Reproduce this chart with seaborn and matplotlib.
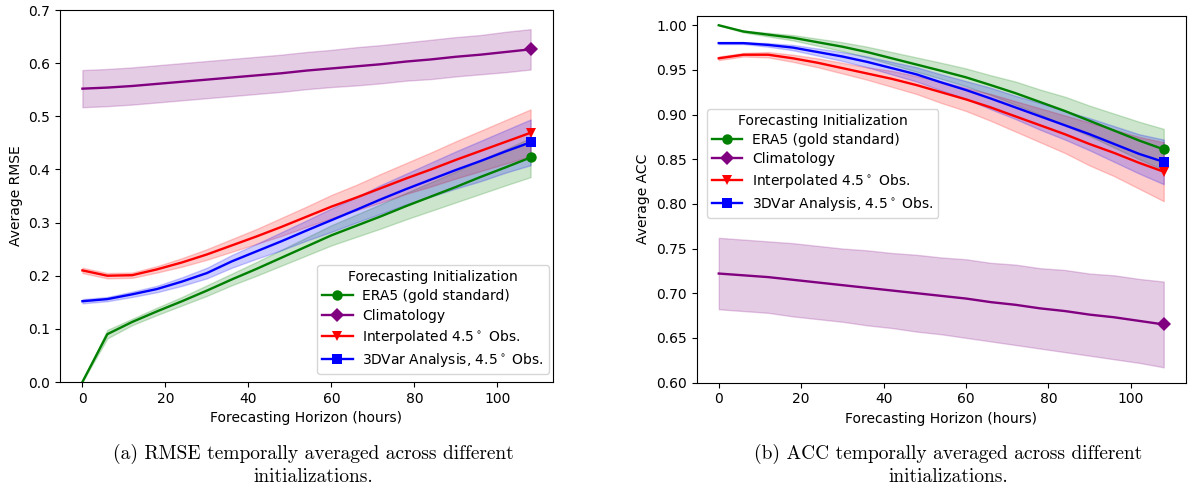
import numpy as np
import pandas as pd
import matplotlib
matplotlib.use("Agg")
import matplotlib.pyplot as plt
import seaborn as sns

# ---------------- data ----------------
hours = [0, 6, 12, 18, 24, 30, 36, 42, 48, 54, 60, 66, 72, 78, 84, 90, 96, 102, 108]

series_names = ["ERA5 (gold standard)", "Climatology",
                r"Interpolated 4.5$^\circ$ Obs.", r"3DVar Analysis, 4.5$^\circ$ Obs."]
series_colors = ["green", "purple", "red", "blue"]
series_markers = ["o", "D", "v", "s"]

# RMSE means
rmse_era5 = [0.000, 0.090, 0.113, 0.133, 0.152, 0.172, 0.193, 0.213, 0.234, 0.255,
             0.276, 0.294, 0.312, 0.331, 0.349, 0.367, 0.386, 0.404, 0.4225]
rmse_clim = [0.552, 0.554, 0.557, 0.561, 0.565, 0.569, 0.573, 0.577, 0.581, 0.586,
             0.590, 0.594, 0.598, 0.603, 0.607, 0.612, 0.616, 0.621, 0.626]
rmse_interp = [0.210, 0.200, 0.201, 0.212, 0.225, 0.240, 0.257, 0.274, 0.292, 0.311,
               0.330, 0.347, 0.365, 0.383, 0.400, 0.418, 0.435, 0.452, 0.469]
rmse_3dvar = [0.152, 0.156, 0.165, 0.175, 0.189, 0.205, 0.227, 0.246, 0.265, 0.285,
              0.3045, 0.324, 0.344, 0.363, 0.381, 0.399, 0.416, 0.434, 0.451]
# RMSE spread (half width of shaded band)
rmse_era5_sd = [0.000, 0.008, 0.006, 0.007, 0.008, 0.010, 0.011, 0.013, 0.015, 0.017,
                0.019, 0.021, 0.023, 0.025, 0.027, 0.029, 0.032, 0.034, 0.037]
rmse_clim_sd = [0.035, 0.035, 0.035, 0.035, 0.035, 0.035, 0.035, 0.035, 0.035, 0.035,
                0.035, 0.036, 0.036, 0.036, 0.037, 0.037, 0.037, 0.038, 0.038]
rmse_interp_sd = [0.005, 0.005, 0.005, 0.006, 0.008, 0.010, 0.012, 0.014, 0.017, 0.019,
                  0.022, 0.024, 0.027, 0.029, 0.032, 0.035, 0.038, 0.041, 0.044]
rmse_3dvar_sd = [0.004, 0.004, 0.005, 0.006, 0.008, 0.010, 0.012, 0.014, 0.017, 0.019,
                 0.022, 0.024, 0.027, 0.029, 0.032, 0.035, 0.038, 0.040, 0.043]

# ACC means
acc_era5 = [1.000, 0.993, 0.9895, 0.986, 0.981, 0.976, 0.970, 0.963, 0.956, 0.949,
            0.9417, 0.933, 0.924, 0.914, 0.904, 0.893, 0.882, 0.871, 0.861]
acc_clim = [0.722, 0.720, 0.718, 0.715, 0.712, 0.709, 0.706, 0.703, 0.700, 0.697,
            0.694, 0.690, 0.687, 0.683, 0.680, 0.676, 0.673, 0.669, 0.665]
acc_interp = [0.963, 0.967, 0.967, 0.963, 0.958, 0.952, 0.946, 0.940, 0.933, 0.925,
              0.917, 0.908, 0.898, 0.888, 0.878, 0.867, 0.857, 0.846, 0.836]
acc_3dvar = [0.980, 0.980, 0.978, 0.975, 0.970, 0.965, 0.959, 0.952, 0.945, 0.936,
             0.9275, 0.918, 0.908, 0.898, 0.888, 0.878, 0.867, 0.856, 0.847]
# ACC spread
acc_era5_sd = [0.000, 0.001, 0.002, 0.003, 0.004, 0.005, 0.006, 0.007, 0.008, 0.009,
               0.010, 0.011, 0.013, 0.014, 0.016, 0.017, 0.019, 0.021, 0.023]
acc_clim_sd = [0.040, 0.040, 0.040, 0.041, 0.041, 0.041, 0.042, 0.042, 0.043, 0.043,
               0.044, 0.044, 0.045, 0.045, 0.046, 0.046, 0.047, 0.047, 0.048]
acc_interp_sd = [0.002, 0.002, 0.003, 0.004, 0.005, 0.006, 0.007, 0.009, 0.010, 0.012,
                 0.013, 0.015, 0.017, 0.019, 0.021, 0.024, 0.026, 0.029, 0.033]
acc_3dvar_sd = [0.001, 0.001, 0.002, 0.003, 0.004, 0.005, 0.006, 0.007, 0.008, 0.009,
                0.010, 0.012, 0.013, 0.015, 0.016, 0.018, 0.020, 0.022, 0.025]

caption_a = "(a) RMSE temporally averaged across different\ninitializations."
caption_b = "(b) ACC temporally averaged across different\ninitializations."

# ---------------- plotting ----------------
plt.rcParams["font.family"] = ["DejaVu Sans"]
plt.rcParams["font.size"] = 10

fig = plt.figure(figsize=(11.88, 4.90), dpi=100)
ax1 = fig.add_axes([60 / 1188, 1 - 382 / 490, 493 / 1188, 372 / 490])
ax2 = fig.add_axes([696.5 / 1188, 1 - 382.5 / 490, 489.5 / 1188, 366.8 / 490])


def draw(ax, means, sds):
    for name, col, mk, m, s in zip(series_names, series_colors, series_markers, means, sds):
        m = np.asarray(m)
        s = np.asarray(s)
        ax.fill_between(hours, m - s, m + s, color=col, alpha=0.2)
        df = pd.DataFrame({"h": hours, "v": m})
        sns.lineplot(data=df, x="h", y="v", ax=ax, color=col, marker=mk,
                     markevery=[len(hours) - 1], markersize=7.5, linewidth=1.7,
                     markeredgewidth=0, label=name)


draw(ax1, [rmse_era5, rmse_clim, rmse_interp, rmse_3dvar],
     [rmse_era5_sd, rmse_clim_sd, rmse_interp_sd, rmse_3dvar_sd])
draw(ax2, [acc_era5, acc_clim, acc_interp, acc_3dvar],
     [acc_era5_sd, acc_clim_sd, acc_interp_sd, acc_3dvar_sd])

ax1.set_ylim(0.0, 0.7)
ax1.set_xlim(-5.4, 113.4)
ax2.set_ylim(0.6, 1.0107)
ax2.set_xlim(-5.4, 113.4)
ax1.set_yticks([0.0, 0.1, 0.2, 0.3, 0.4, 0.5, 0.6, 0.7])
ax2.set_yticks([0.60, 0.65, 0.70, 0.75, 0.80, 0.85, 0.90, 0.95, 1.00])
ax2.yaxis.set_major_formatter(matplotlib.ticker.FormatStrFormatter("%.2f"))

for ax, lab in [(ax1, "Average RMSE"), (ax2, "Average ACC")]:
    ax.set_xlabel("Forecasting Horizon (hours)", fontsize=10)
    ax.set_ylabel(lab, fontsize=10)
    ax.tick_params(labelsize=10)

leg_kw = dict(title="Forecasting Initialization", borderaxespad=0, fontsize=10,
              title_fontsize=10, labelspacing=0.38, handlelength=2.2,
              handletextpad=0.7, borderpad=0.35)
ax1.legend(loc="lower right", bbox_to_anchor=(0.992, 0.0215), **leg_kw)
ax2.legend(loc="upper left", bbox_to_anchor=(0.021, 0.746), **leg_kw)

fig.text((60 + 553) / 2 / 1188 + 0.006, 1 - 444 / 490, caption_a, ha="center", va="top",
         fontsize=14, family=["cmr10", "DejaVu Serif"], linespacing=1.3)
fig.text((696.5 + 1186) / 2 / 1188 + 0.006, 1 - 444 / 490, caption_b, ha="center", va="top",
         fontsize=14, family=["cmr10", "DejaVu Serif"], linespacing=1.3)

fig.savefig("out.png", dpi=100)
